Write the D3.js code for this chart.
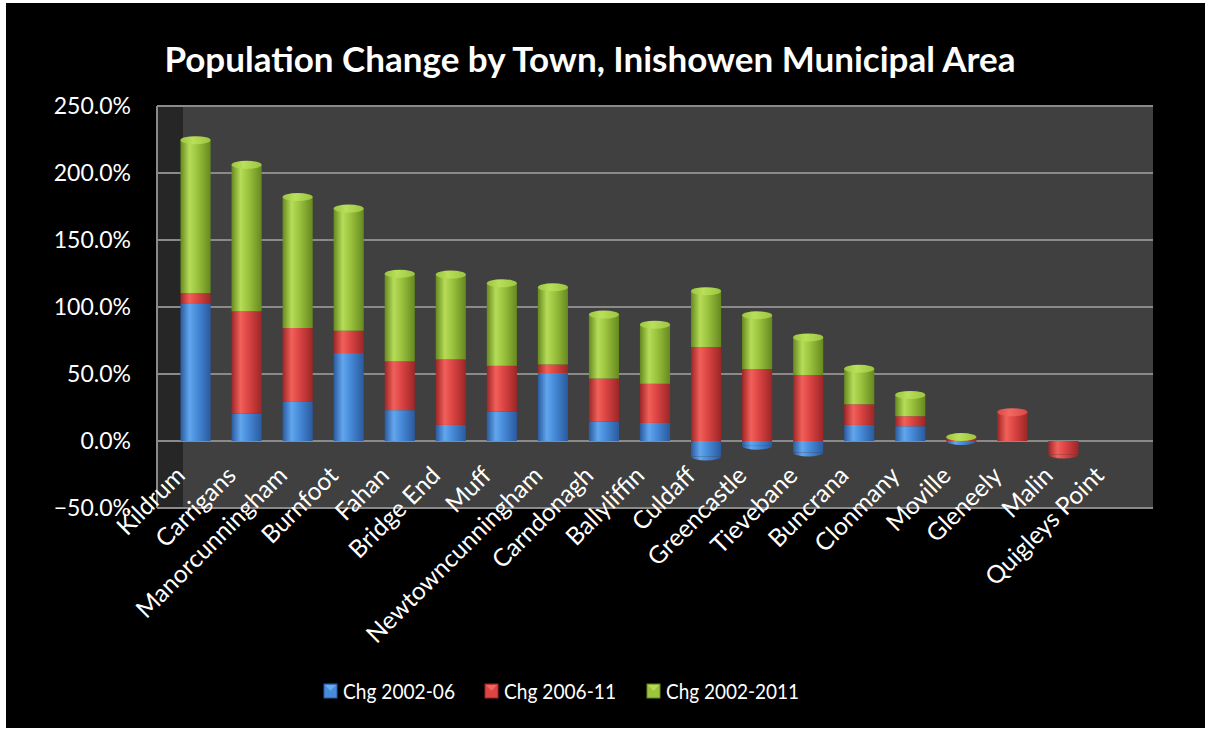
<!DOCTYPE html>
<html>
<head>
<meta charset="utf-8">
<script src="https://cdn.jsdelivr.net/npm/d3@7"></script>
<style>
  html, body { margin: 0; padding: 0; background: #ffffff; }
  svg { display: block; }
  text { font-family: Lato, "Open Sans", sans-serif; }
</style>
</head>
<body>
<svg id="chart" width="1205" height="729"></svg>
<script>
// ---------- data ----------
const towns = ["Kildrum","Carrigans","Manorcunningham","Burnfoot","Fahan","Bridge End","Muff",
  "Newtowncunningham","Carndonagh","Ballyliffin","Culdaff","Greencastle","Tievebane","Buncrana",
  "Clonmany","Moville","Gleneely","Malin","Quigleys Point"];
const seriesNames = ["Chg 2002-06","Chg 2006-11","Chg 2002-2011"];
const chg0206 = [102.8, 20.4, 29.2, 65.6, 23.0, 12.0, 21.9, 50.4, 14.5, 13.5, -14.5, -6.5, -11.5, 12.0, 11.0, -2.0, 0, 0, 0];
const chg0611 = [7.5, 76.4, 55.1, 16.7, 36.4, 48.9, 34.2, 6.7, 32.1, 29.2, 70.1, 53.7, 49.2, 15.4, 7.5, 3.0, 24.5, -13.0, 0];
const chg0211 = [117.2, 112.3, 100.8, 94.1, 68.4, 66.3, 64.6, 60.6, 50.7, 47.1, 44.7, 43.1, 31.1, 29.5, 18.9, 1.0, 0, 0, 0];
const yTicks = [-50, 0, 50, 100, 150, 200, 250];
const titleText = "Population Change by Town, Inishowen Municipal Area";

// ---------- setup ----------
const svg = d3.select("#chart");
const W = 1205, H = 729;
const plot = {left: 157, right: 1153, top: 106, bottom: 508};
const wallW = 26;

const palettes = [
  {dark: "#2a5a9e", light: "#62a6ee", mid: "#478bd9", cap: "#6aaef2"},
  {dark: "#9c2626", light: "#f2605a", mid: "#dc4544", cap: "#f06a64"},
  {dark: "#66891f", light: "#b6dc58", mid: "#9cc43f", cap: "#b8e05a"}
];

const defs = svg.append("defs");
palettes.forEach((p, i) => {
  const g = defs.append("linearGradient").attr("id", "grad" + i)
    .attr("x1", 0).attr("x2", 1).attr("y1", 0).attr("y2", 0);
  g.append("stop").attr("offset", "0%").attr("stop-color", p.dark);
  g.append("stop").attr("offset", "30%").attr("stop-color", p.light);
  g.append("stop").attr("offset", "55%").attr("stop-color", p.mid);
  g.append("stop").attr("offset", "100%").attr("stop-color", p.dark);
  const c = defs.append("linearGradient").attr("id", "cap" + i)
    .attr("x1", 0).attr("x2", 1).attr("y1", 0).attr("y2", 0);
  c.append("stop").attr("offset", "0%").attr("stop-color", p.mid);
  c.append("stop").attr("offset", "40%").attr("stop-color", p.cap);
  c.append("stop").attr("offset", "100%").attr("stop-color", p.mid);
});

// black chart box
svg.append("rect").attr("x", 6).attr("y", 3).attr("width", W - 6).attr("height", 725).attr("fill", "#000");

// scales
const x = d3.scaleBand().domain(towns).range([170, 1140]).paddingInner(0.41).paddingOuter(0.205);
const y = d3.scaleLinear().domain([-50, 250]).range([plot.bottom, plot.top]);

// plot background + side wall
svg.append("rect").attr("x", plot.left).attr("y", plot.top)
  .attr("width", plot.right - plot.left).attr("height", plot.bottom - plot.top).attr("fill", "#404040");
svg.append("rect").attr("x", plot.left).attr("y", plot.top)
  .attr("width", wallW).attr("height", plot.bottom - plot.top).attr("fill", "#262626");

// gridlines
svg.append("g").selectAll("line").data(yTicks).join("line")
  .attr("x1", plot.left).attr("x2", plot.right)
  .attr("y1", d => y(d)).attr("y2", d => y(d))
  .attr("stroke", "#8a8a8a").attr("stroke-width", 2);
// left axis line
svg.append("line").attr("x1", plot.left).attr("x2", plot.left)
  .attr("y1", plot.top).attr("y2", plot.bottom).attr("stroke", "#8a8a8a").attr("stroke-width", 2);

// y axis labels via d3 axis
const yAxis = d3.axisLeft(y).tickValues(yTicks).tickSize(0).tickPadding(0)
  .tickFormat(d => d3.format(".1f")(d) + "%");
const yg = svg.append("g").attr("transform", `translate(131,0)`).call(yAxis);
yg.select(".domain").remove();
yg.selectAll("text").attr("fill", "#fff").attr("font-size", 23)
  .attr("font-family", "Lato, sans-serif");

// stacked data
const rows = towns.map((t, i) => ({town: t, s0: chg0206[i], s1: chg0611[i], s2: chg0211[i]}));
const stack = d3.stack().keys(["s0","s1","s2"]).offset(d3.stackOffsetDiverging);
const stacked = stack(rows);

// determine top-most positive & bottom-most negative segment per bar
const topSeg = {}, botSeg = {};
stacked.forEach((layer, li) => {
  layer.forEach((seg, i) => {
    const v = seg[1] - seg[0];
    if (v === 0) return;
    if (seg[0] >= 0 && seg[1] > 0) topSeg[i] = li;
    if (seg[1] <= 0 && seg[0] < 0) { if (botSeg[i] === undefined || seg[0] <= stacked[botSeg[i]][i][0]) botSeg[i] = li; }
  });
});

const bw = x.bandwidth();
const ry = 4;
const barG = svg.append("g");
stacked.forEach((layer, li) => {
  layer.forEach((seg, i) => {
    const v = seg[1] - seg[0];
    if (v === 0) return;
    const town = towns[i];
    const x0 = x(town);
    let yTop = y(seg[1]), yBot = y(seg[0]);
    const isTop = topSeg[i] === li;
    const isBot = botSeg[i] === li;
    if (isTop) yTop = Math.min(yTop + ry, yBot);
    if (isBot) yBot = Math.max(yBot - ry, yTop);
    barG.append("rect").attr("x", x0).attr("y", yTop).attr("width", bw)
      .attr("height", Math.max(0.8, yBot - yTop)).attr("fill", `url(#grad${li})`);
    if (isTop) {
      barG.append("ellipse").attr("cx", x0 + bw / 2).attr("cy", yTop).attr("rx", bw / 2).attr("ry", ry)
        .attr("fill", `url(#cap${li})`);
    }
    if (isBot) {
      barG.append("path")
        .attr("d", `M${x0},${yBot} A${bw/2},${ry} 0 0 0 ${x0 + bw},${yBot} Z`)
        .attr("fill", `url(#grad${li})`);
    }
  });
});

// x labels
svg.append("g").selectAll("text").data(towns).join("text")
  .attr("transform", d => `translate(${x(d) + bw / 2 - 9},477) rotate(-45)`)
  .attr("text-anchor", "end").attr("fill", "#fff").attr("font-size", 24.5)
  .text(d => d);

// title
svg.append("text").attr("x", 590).attr("y", 72).attr("text-anchor", "middle")
  .attr("fill", "#fff").attr("font-size", 35).attr("font-weight", "bold").text(titleText);

// legend
const legX = [324, 485, 647];
const legLen = [112, 112, 133];
const lg = svg.append("g").selectAll("g").data(seriesNames).join("g")
  .attr("transform", (d, i) => `translate(${legX[i]},684)`);
lg.append("rect").attr("width", 13).attr("height", 14).attr("fill", (d, i) => palettes[i].mid)
  .attr("stroke", (d, i) => palettes[i].dark).attr("stroke-width", 1);
lg.append("path").attr("d", "M1,1 L6.5,7 L12,1 Z").attr("fill", (d, i) => palettes[i].cap).attr("opacity", 0.9);
lg.append("text").attr("x", 19).attr("y", 15).attr("fill", "#fff").attr("font-size", 22)
  .attr("textLength", (d, i) => legLen[i]).attr("lengthAdjust", "spacingAndGlyphs").text(d => d);
</script>
</body>
</html>
